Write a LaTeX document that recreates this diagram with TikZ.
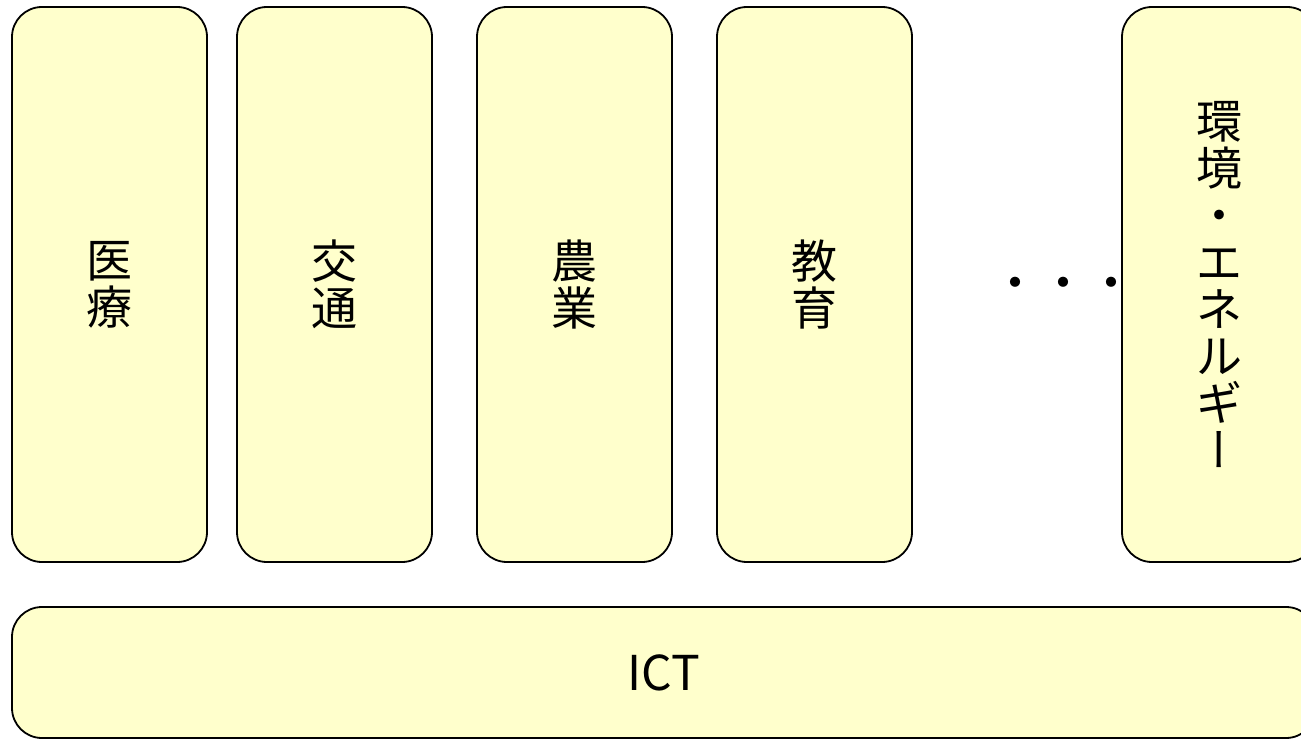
\documentclass[tikz,border=0pt]{standalone}
\usepackage{fontspec}
\setmainfont{Noto Sans CJK JP}
\newfontfamily\cjkv[RawFeature=+vert]{Noto Sans CJK JP}
\definecolor{sectorfill}{HTML}{FFFFCC}
\begin{document}
\begin{tikzpicture}[x=1pt,y=-1pt,
  sector/.style={draw=black, line width=1.8pt, fill=sectorfill, rounded corners=30pt,
    rectangle, inner sep=0pt, align=center, minimum width=195pt, minimum height=555pt,
    font=\fontsize{46}{47}\selectfont},
  base/.style={draw=black, line width=1.8pt, fill=sectorfill, rounded corners=30pt,
    rectangle, inner sep=0pt, minimum width=1304pt, minimum height=131pt,
    font=\fontsize{48}{48}\selectfont},
  dots/.style={inner sep=0pt, font=\fontsize{48}{48}\selectfont}]
\useasboundingbox (0,0) rectangle (1301,741);
\clip (0,0) rectangle (1301,741);
\node[sector] (med) at (109.5,284.5) {医\\療};
\node[sector] (tra) at (334.5,284.5) {交\\通};
\node[sector] (agr) at (574.5,284.5) {農\\業};
\node[sector] (edu) at (814.5,284.5) {教\\育};
\node[sector] (env) at (1219.5,284.5) {環\\境\\・\\エ\\ネ\\ル\\ギ\\{\cjkv ー}};
\node[dots] (more) at (1063,289) {・・・};
\node[base] (ict) at (664,672.5) {ICT};
\end{tikzpicture}
\end{document}
